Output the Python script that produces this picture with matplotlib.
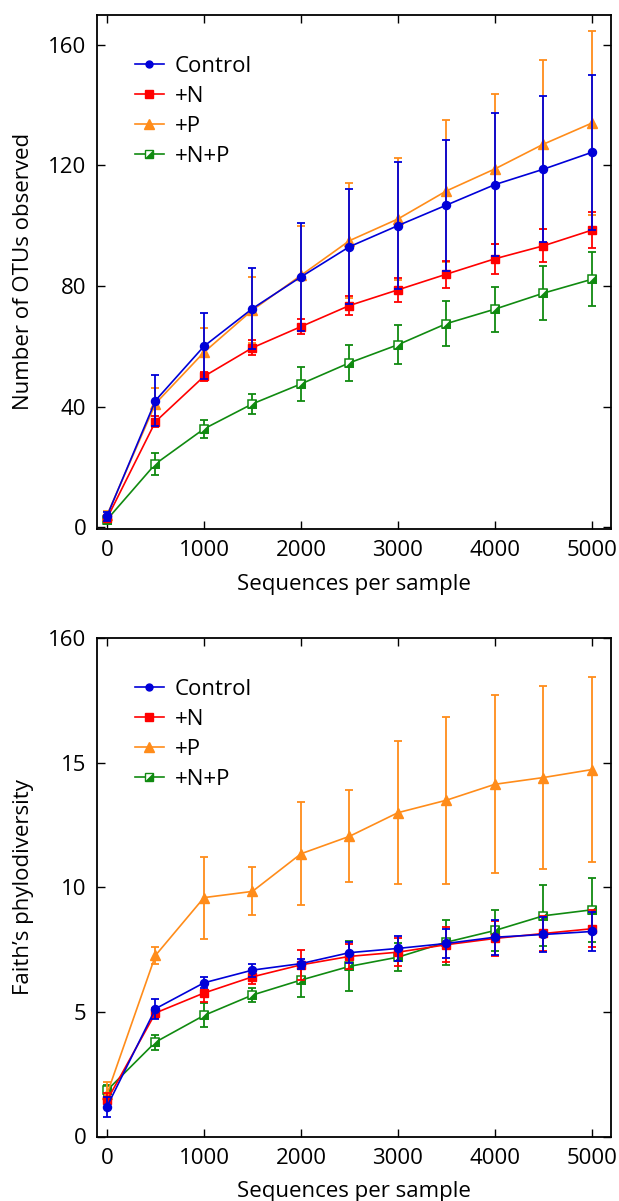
import matplotlib
matplotlib.use("Agg")
import matplotlib.pyplot as plt
from matplotlib.lines import Line2D
from matplotlib.legend_handler import HandlerTuple

plt.rcParams['font.family'] = ['Open Sans', 'DejaVu Sans']

x = [0, 500, 1000, 1500, 2000, 2500, 3000, 3500, 4000, 4500, 5000]
labels = ["Control", "+N", "+P", "+N+P"]
colors = ["#0000d8", "#ff0000", "#ff8c1a", "#108a10"]

# Top: Number of OTUs observed
otu_control = [3.7, 42, 60, 72.5, 83, 93, 100, 106.8, 113.6, 118.7, 124.3]
otu_control_err = [1.5, 8.5, 11, 13.5, 18, 19, 21, 21.7, 23.6, 24.3, 25.8]
otu_n = [2.9, 35, 50, 59.5, 66.5, 73.5, 78.7, 83.9, 89, 93.3, 98.5]
otu_n_err = [1.0, 1.8, 1.5, 2.5, 2.5, 3.0, 4.0, 4.5, 5.0, 5.5, 6.0]
otu_p = [4.0, 41, 58, 72, 83.5, 95, 102.2, 111.5, 118.8, 127, 134]
otu_p_err = [1.5, 5, 8, 11, 16.5, 19, 20.3, 23.6, 25, 28, 30.4]
otu_np = [2.5, 21, 32.6, 40.9, 47.5, 54.5, 60.5, 67.5, 72.3, 77.6, 82.2]
otu_np_err = [1.0, 3.6, 3.0, 3.4, 5.5, 6.0, 6.5, 7.5, 7.5, 9.0, 9.0]

# Bottom: Faith's phylodiversity
pd_control = [1.2, 5.13, 6.17, 6.68, 6.94, 7.38, 7.55, 7.75, 8.0, 8.11, 8.23]
pd_control_err = [0.4, 0.4, 0.22, 0.26, 0.2, 0.42, 0.5, 0.6, 0.7, 0.7, 0.77]
pd_n = [1.45, 4.96, 5.76, 6.41, 6.89, 7.23, 7.4, 7.7, 7.95, 8.15, 8.34]
pd_n_err = [0.3, 0.2, 0.35, 0.3, 0.6, 0.5, 0.55, 0.7, 0.7, 0.7, 0.75]
pd_p = [1.7, 7.27, 9.59, 9.84, 11.35, 12.05, 13.0, 13.5, 14.14, 14.41, 14.73]
pd_p_err = [0.5, 0.35, 1.65, 0.96, 2.07, 1.85, 2.87, 3.35, 3.57, 3.68, 3.72]
pd_np = [1.85, 3.79, 4.86, 5.68, 6.28, 6.83, 7.2, 7.8, 8.27, 8.86, 9.1]
pd_np_err = [0.2, 0.3, 0.48, 0.3, 0.68, 1.0, 0.55, 0.9, 0.83, 1.22, 1.29]

fig = plt.figure(figsize=(6.19, 12.01), dpi=100)
W, H = 619.0, 1201.0
ax1 = fig.add_axes([97.3 / W, 1 - 529.3 / H, (611.3 - 97.3) / W, (529.3 - 14.5) / H])
ax2 = fig.add_axes([97.3 / W, 1 - 1136.5 / H, (611.3 - 97.3) / W, (1136.5 - 638.3) / H])

tri_verts = [(-1, -1), (1, -1), (1, 1), (-1, -1)]


def draw(ax, series, errs):
    zorders = [6, 5, 4, 3]
    markers = ['o', 's', '^', 's']
    msizes = [5.8, 6.0, 7.2, 6.0]
    for i in range(4):
        c = colors[i]
        y = series[i]
        e = errs[i]
        ax.errorbar(x, y, yerr=e, fmt='none', ecolor=c, elinewidth=1.3,
                    capsize=2.6, capthick=1.3, zorder=zorders[i])
        if i == 3:
            ax.plot(x, y, color=c, lw=1.2, marker='s', ms=msizes[i],
                    mfc='white', mec=c, mew=1.1, zorder=zorders[i] + 0.1)
            ax.plot(x, y, ls='none', marker=tri_verts, ms=msizes[i],
                    mfc=c, mec=c, mew=0.5, zorder=zorders[i] + 0.2)
        else:
            ax.plot(x, y, color=c, lw=1.2, marker=markers[i], ms=msizes[i],
                    mfc=c, mec=c, zorder=zorders[i] + 0.1)


draw(ax1, [otu_control, otu_n, otu_p, otu_np],
     [otu_control_err, otu_n_err, otu_p_err, otu_np_err])
draw(ax2, [pd_control, pd_n, pd_p, pd_np],
     [pd_control_err, pd_n_err, pd_p_err, pd_np_err])


def legend_handles():
    return [
        Line2D([], [], color=colors[0], lw=1.2, marker='o', ms=5.0, mfc=colors[0], mec=colors[0]),
        Line2D([], [], color=colors[1], lw=1.2, marker='s', ms=5.5, mfc=colors[1], mec=colors[1]),
        Line2D([], [], color=colors[2], lw=1.2, marker='^', ms=6.5, mfc=colors[2], mec=colors[2]),
        (Line2D([], [], color=colors[3], lw=1.2, marker='s', ms=5.5, mfc='white', mec=colors[3], mew=1.0),
         Line2D([], [], ls='none', marker=tri_verts, ms=5.5, mfc=colors[3], mec=colors[3], mew=0.5)),
    ]


for ax, ya in ((ax1, 0.919), (ax2, 0.918)):
    ax.legend(legend_handles(), labels, loc='upper left',
              bbox_to_anchor=(0.073, ya), frameon=False, fontsize=16,
              handlelength=1.3, handletextpad=0.5, labelspacing=0.4,
              borderaxespad=0.0, borderpad=0.0,
              handler_map={tuple: HandlerTuple(ndivide=1, pad=0)})
    ax.set_xlim(-100, 5200)
    ax.set_xticks([0, 1000, 2000, 3000, 4000, 5000])
    ax.tick_params(direction='in', top=True, right=True, length=6, width=1.0,
                   labelsize=16, pad=8)
    for s in ax.spines.values():
        s.set_linewidth(1.3)
    ax.set_xlabel("Sequences per sample", fontsize=16, labelpad=9)

ax1.set_ylim(-0.7, 170)
ax1.set_yticks([0, 40, 80, 120, 160])
ax1.set_ylabel("Number of OTUs observed", fontsize=16, labelpad=10)

ax2.set_ylim(0, 20)
ax2.set_yticks([0, 5, 10, 15, 20])
ax2.set_yticklabels(["0", "5", "10", "15", "160"])
ax2.set_ylabel("Faith\u2019s phylodiversity", fontsize=16, labelpad=10)

fig.savefig("out.png", dpi=100)
